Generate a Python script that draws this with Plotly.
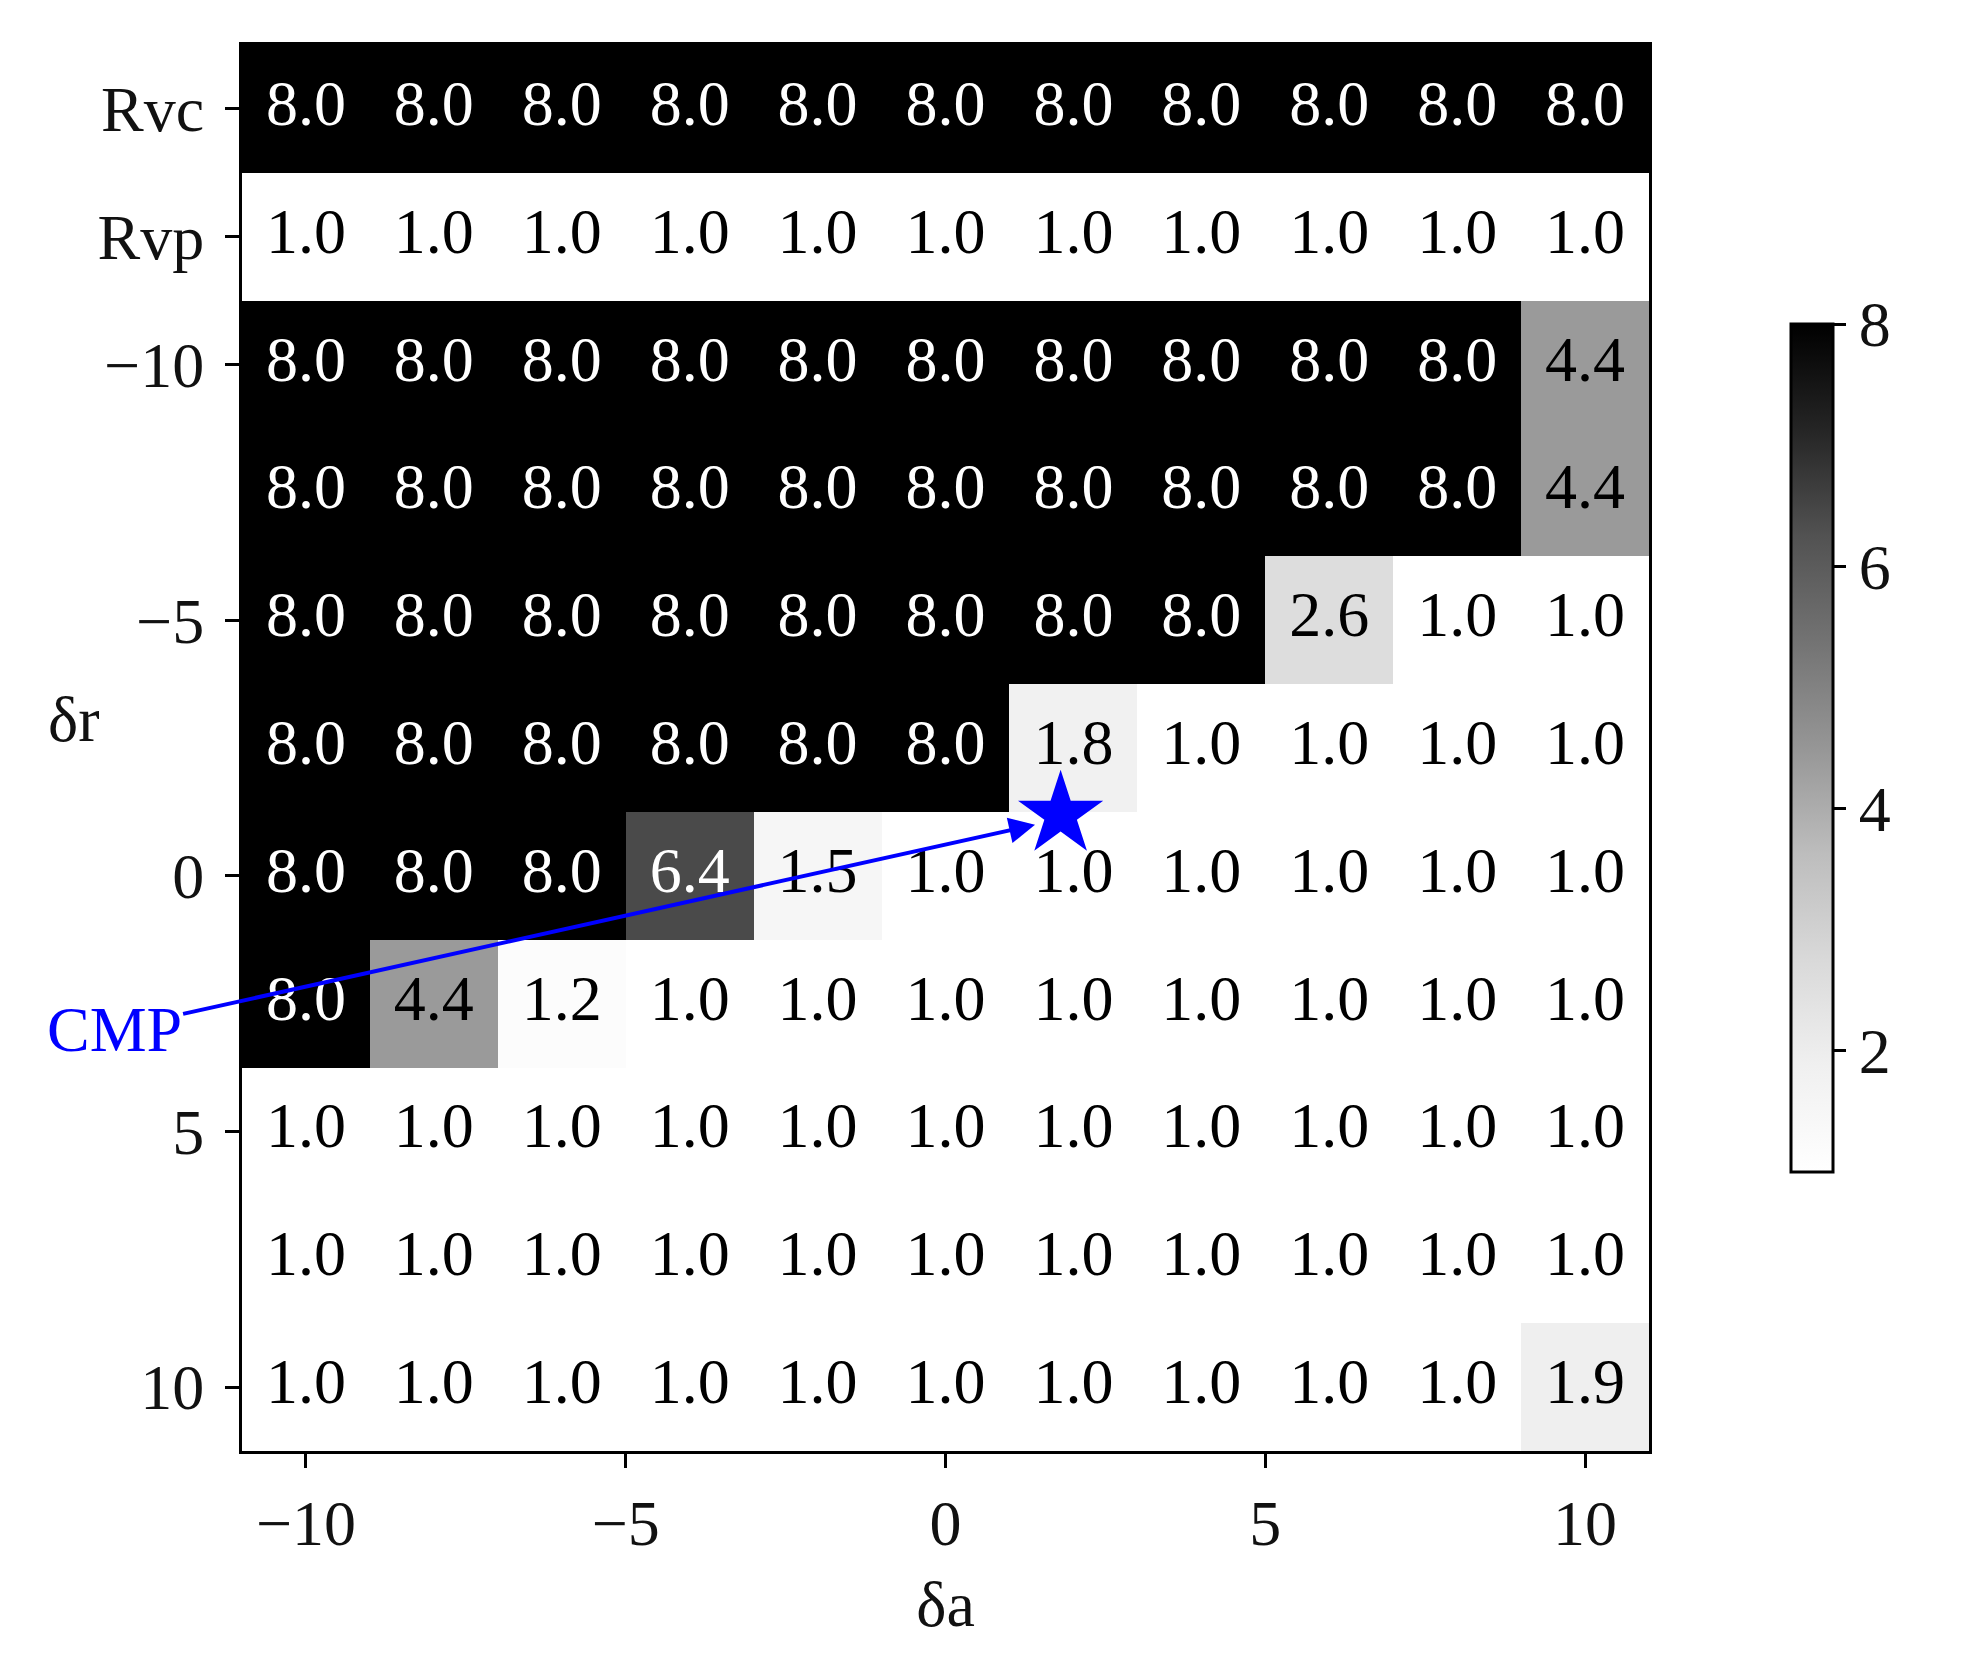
import plotly.graph_objects as go

# columns: aileron deflection da, rows: Rvc, Rvp, then rudder deflection dr
da = [-10, -8, -6, -4, -2, 0, 2, 4, 6, 8, 10]
row_labels = ['Rvc', 'Rvp', '-10', '-7.5', '-5', '-2.5', '0', '2.5', '5', '7.5', '10']
row_pos = [-15, -12.5, -10, -7.5, -5, -2.5, 0, 2.5, 5, 7.5, 10]

z_rvc = [8.0] * 11
z_rvp = [1.0] * 11
z_m10 = [8.0, 8.0, 8.0, 8.0, 8.0, 8.0, 8.0, 8.0, 8.0, 8.0, 4.4]
z_m75 = [8.0, 8.0, 8.0, 8.0, 8.0, 8.0, 8.0, 8.0, 8.0, 8.0, 4.4]
z_m5 = [8.0, 8.0, 8.0, 8.0, 8.0, 8.0, 8.0, 8.0, 2.6, 1.0, 1.0]
z_m25 = [8.0, 8.0, 8.0, 8.0, 8.0, 8.0, 1.8, 1.0, 1.0, 1.0, 1.0]
z_0 = [8.0, 8.0, 8.0, 6.4, 1.5, 1.0, 1.0, 1.0, 1.0, 1.0, 1.0]
z_25 = [8.0, 4.4, 1.2, 1.0, 1.0, 1.0, 1.0, 1.0, 1.0, 1.0, 1.0]
z_5 = [1.0] * 11
z_75 = [1.0] * 11
z_10 = [1.0, 1.0, 1.0, 1.0, 1.0, 1.0, 1.0, 1.0, 1.0, 1.0, 1.9]
z = [z_rvc, z_rvp, z_m10, z_m75, z_m5, z_m25, z_0, z_25, z_5, z_75, z_10]

cmp_point = (1.8, -1.2)
cmp_label = (-13.0, 3.0)

y_tickvals = [-15, -12.5, -10, -5, 0, 5, 10]
y_ticktext = ['Rvc', 'Rvp', '\u221210', '\u22125', '0', '5', '10']

FONT = 'Liberation Serif'
FS = 64
greys = [[0.0, '#ffffff'], [0.125, '#f0f0f0'], [0.25, '#d9d9d9'], [0.375, '#bdbdbd'],
         [0.5, '#969696'], [0.625, '#737373'], [0.75, '#525252'], [0.875, '#252525'],
         [1.0, '#000000']]

fig = go.Figure()
fig.add_trace(go.Heatmap(
    x=da, y=row_pos, z=z, zmin=1, zmax=8, colorscale=greys,
    colorbar=dict(
        x=1.094, xanchor='left', y=0.5, yanchor='middle', len=0.617, lenmode='fraction',
        thickness=42, outlinecolor='black', outlinewidth=3,
        tickvals=[2, 4, 6, 8], ticks='outside', ticklen=12, tickwidth=3, tickcolor='black',
        tickfont=dict(family=FONT, size=FS, color='#111'),
    ),
    hoverinfo='skip',
))

# cell labels
tx, ty, tt, tc = [], [], [], []
for r, row in enumerate(z):
    for c, v in enumerate(row):
        tx.append(da[c]); ty.append(row_pos[r]); tt.append(f'{v:.1f}')
        tc.append('white' if v > 5 else 'black')
fig.add_trace(go.Scatter(
    x=tx, y=ty, text=tt, mode='text',
    textfont=dict(family=FONT, size=FS, color=tc),
    showlegend=False, hoverinfo='skip',
))

# CMP star
fig.add_trace(go.Scatter(
    x=[cmp_point[0]], y=[cmp_point[1]], mode='markers',
    marker=dict(symbol='star', size=64, color='blue', line=dict(width=0)),
    showlegend=False, hoverinfo='skip',
))

fig.add_annotation(
    x=cmp_point[0] - 0.4, y=cmp_point[1] + 0.2, xref='x', yref='y',
    ax=cmp_label[0], ay=cmp_label[1], axref='x', ayref='y',
    text='CMP', font=dict(family=FONT, size=FS, color='blue'),
    showarrow=True, arrowhead=2, arrowsize=1.3, arrowwidth=4, arrowcolor='blue',
)
fig.add_annotation(
    x=-0.12, y=0.52, xref='paper', yref='paper', text='\u03b4r', showarrow=False,
    font=dict(family=FONT, size=FS, color='#111'), xanchor='center', yanchor='middle',
)

fig.update_xaxes(
    range=[-11, 11], tickvals=[-10, -5, 0, 5, 10], ticktext=['\u221210', '\u22125', '0', '5', '10'],
    ticks='outside', ticklen=14, tickwidth=3, tickcolor='black',
    showline=True, linecolor='black', linewidth=3, mirror=True, showgrid=False, zeroline=False,
    tickfont=dict(family=FONT, size=FS, color='#111'),
    title=dict(text='\u03b4a', font=dict(family=FONT, size=FS, color='#111'), standoff=24),
)
fig.update_yaxes(
    range=[11.25, -16.25], tickvals=y_tickvals, ticktext=y_ticktext,
    ticks='outside', ticklen=14, tickwidth=3, tickcolor='black',
    showline=True, linecolor='black', linewidth=3, mirror=True, showgrid=False, zeroline=False,
    tickfont=dict(family=FONT, size=FS, color='#111'), ticklabelstandoff=8,
)
fig.update_layout(
    width=1979, height=1662,
    margin=dict(l=234, r=338, t=37, b=219),
    paper_bgcolor='white', plot_bgcolor='white',
    showlegend=False,
)
fig.write_html('out.html')
